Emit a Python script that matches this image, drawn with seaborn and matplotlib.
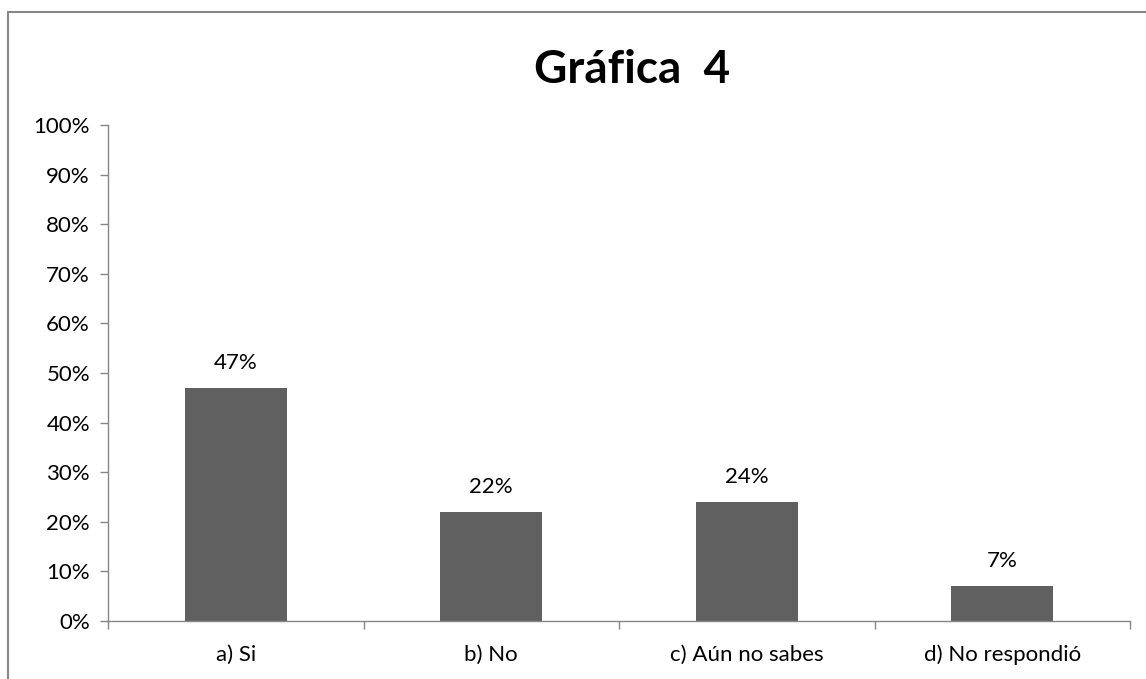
import matplotlib
matplotlib.use("Agg")
import matplotlib.pyplot as plt
import seaborn as sns
import pandas as pd
from matplotlib.patches import Rectangle
from matplotlib.ticker import FixedLocator, PercentFormatter

categories = ["a) Si", "b) No", "c) Aún no sabes", "d) No respondió"]
values = [47, 22, 24, 7]
value_labels = ["47%", "22%", "24%", "7%"]
y_ticks = [0, 10, 20, 30, 40, 50, 60, 70, 80, 90, 100]
title = "Gráfica  4"

sns.set_theme(style="white")
plt.rcParams['font.family'] = ['Lato', 'DejaVu Sans']

df = pd.DataFrame({"cat": categories, "val": values})

fig = plt.figure(figsize=(11.46, 6.79), dpi=100)
ax = fig.add_axes([108/1146, 1-621/679, (1130-108)/1146, (621-125)/679])

sns.barplot(data=df, x="cat", y="val", color="#606060", width=0.4, ax=ax,
            saturation=1, edgecolor="none")

ax.set_ylim(0, 100)
ax.set_xlim(-0.5, len(categories)-0.5)
ax.yaxis.set_major_locator(FixedLocator(y_ticks))
ax.yaxis.set_major_formatter(PercentFormatter(decimals=0))
ax.set_xlabel("")
ax.set_ylabel("")

axis_color = "#868686"
for s in ["top", "right"]:
    ax.spines[s].set_visible(False)
for s in ["left", "bottom"]:
    ax.spines[s].set_color(axis_color)
    ax.spines[s].set_linewidth(1.0)

fs = 16
ax.tick_params(axis="y", which="major", direction="out", length=6, color=axis_color,
               width=1, labelsize=fs, labelcolor="black", pad=7, left=True)
ax.tick_params(axis="x", which="major", length=0, labelsize=fs, labelcolor="black", pad=17)
ax.set_xticks([i - 0.5 for i in range(len(categories)+1)], minor=True)
ax.tick_params(axis="x", which="minor", direction="out", length=6, color=axis_color,
               width=1, bottom=True)

for i, (v, lab) in enumerate(zip(values, value_labels)):
    ax.annotate(lab, (i, v), xytext=(0, 11), textcoords="offset points",
                ha="center", va="bottom", fontsize=fs, color="black")

fig.text(632/1146, 1-70/679, title, ha="center", va="center", fontsize=33,
         fontweight="bold", color="black")

fig.patches.append(Rectangle((8/1146, -0.1), 1.2, 1-12/679+0.1, transform=fig.transFigure,
                             fill=False, edgecolor="#878787", linewidth=1.5, zorder=10))

fig.savefig("out.png", dpi=100)
